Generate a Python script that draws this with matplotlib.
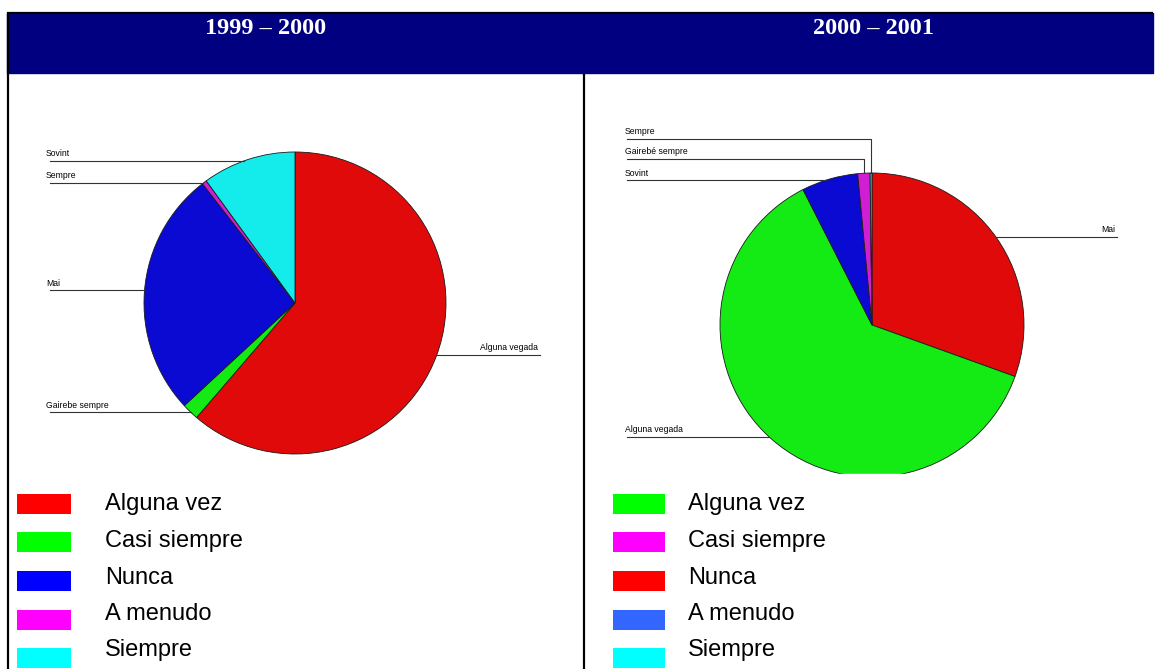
import matplotlib
matplotlib.use("Agg")
import matplotlib.pyplot as plt
import numpy as np
from matplotlib.patches import Rectangle

# --- data ---
periodos = ["1999 – 2000", "2000 – 2001"]

# pie 1 (clockwise from 12 o'clock)
etiq_1 = ["Alguna vegada", "Gairebe sempre", "Mai", "Sempre", "Sovint"]
vals_1 = [61.3, 1.8, 26.4, 0.5, 10.0]
col_1 = ["#E10A0A", "#14EB14", "#0A0AD2", "#D21ED2", "#14EBEB"]

# pie 2 (clockwise from 12 o'clock)
etiq_2 = ["Mai", "Alguna vegada", "Sovint", "Gairebé sempre", "Sempre"]
vals_2 = [30.5, 62.0, 6.0, 1.3, 0.2]
col_2 = ["#E10A0A", "#14EB14", "#0A0AD2", "#D21ED2", "#14EBEB"]

# legends (as in the source tables)
leg_txt = ["Alguna vez", "Casi siempre", "Nunca", "A menudo", "Siempre"]
leg_col_1 = ["#FF0000", "#00FF00", "#0000FF", "#FF00FF", "#00FFFF"]
leg_col_2 = ["#00FF00", "#FF00FF", "#FF0000", "#3366FF", "#00FFFF"]

W, H = 1155, 669
def Y(y):
    return H - y

fig = plt.figure(figsize=(W / 100, H / 100), dpi=100)
ax = fig.add_axes([0, 0, 1, 1])

# --- header band ---
ax.add_patch(Rectangle((7, Y(73)), 1146, 60, color="#000080", zorder=1))
ax.plot([7, 1153], [Y(12.5), Y(12.5)], color="black", lw=1.6, zorder=2,
        solid_capstyle="butt")
ax.plot([7.5, 7.5], [Y(12), 0], color="black", lw=1.6, zorder=2,
        solid_capstyle="butt")
ax.plot([583.5, 583.5], [Y(73), 0], color="black", lw=1.6, zorder=2,
        solid_capstyle="butt")
for xc, t in zip([266, 873], periodos):
    ax.text(xc, Y(29), t, color="white", fontsize=17.5, fontweight="bold",
            family="Liberation Serif", ha="center", va="center", zorder=3)

# --- pies ---
pies = [
    (etiq_1, vals_1, col_1, (295, 303), 151),
    (etiq_2, vals_2, col_2, (872, 325), 152),
]
for etiq, vals, cols, (cx, cy), r in pies:
    ax.pie(vals, colors=cols, startangle=90, counterclock=False,
           center=(cx, Y(cy)), radius=r,
           wedgeprops=dict(edgecolor="#1a1a1a", linewidth=0.6))

# white area of the legend covering the bottom of the second pie
ax.add_patch(Rectangle((586, 0), 560, Y(473.5), color="white", zorder=5))


def edge_x(cx, cy, r, y, side):
    dx = np.sqrt(max(r ** 2 - (y - cy) ** 2, 0))
    return cx - dx if side == "L" else cx + dx


def mid_angle(vals, i):
    c = np.cumsum([0] + list(vals))
    return np.deg2rad((c[i] + c[i + 1]) / 2 / c[-1] * 360)


lab_kw = dict(fontsize=6.2, family="Liberation Sans", color="black", va="bottom")
lc = "#333333"

# pie 1 labels: (index, side, line y)
cx, cy, r = 295, 303, 151
for i, side, yl in [(4, "L", 161), (3, "L", 183), (2, "L", 290), (1, "L", 412), (0, "R", 355)]:
    xe = edge_x(cx, cy, r, yl, side)
    if side == "L":
        ax.plot([50, xe], [Y(yl), Y(yl)], color=lc, lw=0.8)
        ax.text(46, Y(yl) + 2.5, etiq_1[i], ha="left", **lab_kw)
    else:
        ax.plot([xe, 540], [Y(yl), Y(yl)], color=lc, lw=0.8)
        ax.text(538, Y(yl) + 2.5, etiq_1[i], ha="right", **lab_kw)

# pie 2 labels
cx, cy, r = 872, 325, 152
for i, yl in [(4, 139), (3, 159)]:
    a = mid_angle(vals_2, i)
    xm = cx + r * np.sin(a)
    ye = cy - r * np.cos(a)
    ax.plot([627, xm, xm], [Y(yl), Y(yl), Y(ye)], color=lc, lw=0.8)
    ax.text(625, Y(yl) + 2.5, etiq_2[i], ha="left", **lab_kw)
for i, side, yl in [(2, "L", 180), (1, "L", 437), (0, "R", 237)]:
    xe = edge_x(cx, cy, r, yl, side)
    if side == "L":
        ax.plot([627, xe], [Y(yl), Y(yl)], color=lc, lw=0.8)
        ax.text(625, Y(yl) + 2.5, etiq_2[i], ha="left", **lab_kw)
    else:
        ax.plot([xe, 1117], [Y(yl), Y(yl)], color=lc, lw=0.8)
        ax.text(1115, Y(yl) + 2.5, etiq_2[i], ha="right", **lab_kw)

# --- legends ---
rows = [494, 532, 571, 610, 648]
bases = [510, 547, 584, 620, 656]
for (px, pw, tx, cols) in [(17, 54, 105, leg_col_1), (613, 52, 688, leg_col_2)]:
    for yt, yb, c, t in zip(rows, bases, cols, leg_txt):
        ax.add_patch(Rectangle((px, Y(yt + 20)), pw, 20, color=c, lw=0, zorder=6))
        ax.text(tx, Y(yb), t, fontsize=17, family="Liberation Sans",
                ha="left", va="baseline", zorder=6)

ax.set_xlim(0, W)
ax.set_ylim(0, H)
ax.set_aspect("auto")
ax.axis("off")

fig.savefig("out.png", dpi=100)
